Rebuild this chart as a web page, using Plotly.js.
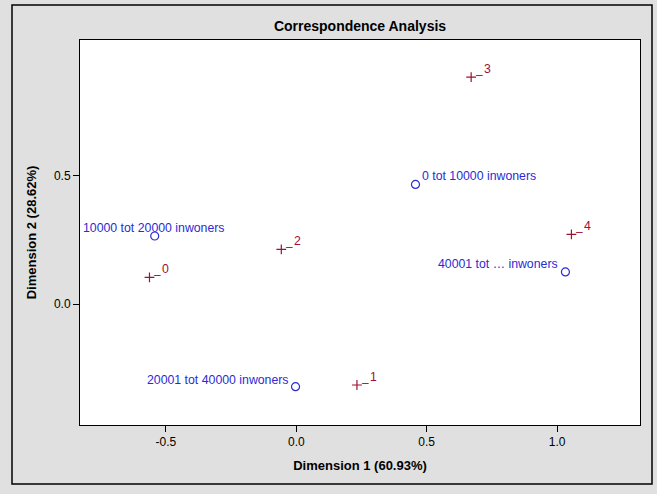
<!DOCTYPE html>
<html><head><meta charset="utf-8">
<script src="https://cdn.plot.ly/plotly-3.0.1.min.js"></script>
<style>html,body{margin:0;padding:0;background:#e0e0e0;}#chart{width:657px;height:494px;}</style>
</head><body><div id="chart"></div>
<script>
// Row points (community size classes)
const rowLabels = ["0 tot 10000 inwoners", "10000 tot 20000 inwoners", "20001 tot 40000 inwoners", "40001 tot \u2026 inwoners"];
const rowDim1 = [0.457, -0.543, -0.003, 1.032];
const rowDim2 = [0.466, 0.265, -0.322, 0.125];

// Column points
const colLabels = ["0", "1", "2", "3", "4"];
const colDim1 = [-0.563, 0.2325, -0.0575, 0.6705, 1.055];
const colDim2 = [0.104, -0.3155, 0.213, 0.884, 0.271];

const xTicks = [-0.5, 0.0, 0.5, 1.0];
const xTickText = ["-0.5", "0.0", "0.5", "1.0"];
const yTicks = [0.0, 0.5];
const yTickText = ["0.0", "0.5"];

const BLUE = "#2b2bd4";
const RED = "#a01030";
const FONT = "Liberation Sans, Arial, sans-serif";

// label placement for rows: [xanchor, xshift, yshift]
const rowPlace = [["left", 5, 8], ["center", -1, 8], ["right", -5, 7], ["right", -5, 8]];

const annotations = [];
rowLabels.forEach((t, i) => {
  annotations.push({x: rowDim1[i], y: rowDim2[i], xref: "x", yref: "y", text: t, showarrow: false,
    xanchor: rowPlace[i][0], yanchor: "middle", xshift: rowPlace[i][1], yshift: rowPlace[i][2],
    font: {family: FONT, size: 12.3, color: BLUE}});
});
colLabels.forEach((t, i) => {
  annotations.push({x: colDim1[i], y: colDim2[i], xref: "x", yref: "y", text: "\u2013", showarrow: false,
    xanchor: "left", yanchor: "middle", xshift: 3, yshift: 2,
    font: {family: FONT, size: 12, color: RED}});
  annotations.push({x: colDim1[i], y: colDim2[i], xref: "x", yref: "y", text: t, showarrow: false,
    xanchor: "left", yanchor: "middle", xshift: 11, yshift: 8,
    font: {family: FONT, size: 12.3, color: RED}});
});

const traces = [
  {x: rowDim1, y: rowDim2, mode: "markers", type: "scatter", name: "Rows",
   marker: {symbol: "circle-open", size: 8, color: BLUE, line: {width: 1.2, color: BLUE}}},
  {x: colDim1, y: colDim2, mode: "markers", type: "scatter", name: "Columns",
   marker: {symbol: "cross-thin-open", size: 7, color: RED, line: {width: 1.2, color: RED}}}
];

const layout = {
  width: 657, height: 494,
  paper_bgcolor: "#e0e0e0", plot_bgcolor: "#ffffff",
  margin: {l: 80, r: 17, t: 40, b: 69, pad: 0},
  showlegend: false,
  font: {family: FONT, size: 12, color: "#000"},
  title: {text: "<b>Correspondence Analysis</b>", font: {family: FONT, size: 14, color: "#000"},
          x: 0.5, xref: "paper", xanchor: "center", y: 1 - 26/494, yref: "container", yanchor: "middle"},
  xaxis: {range: [-0.8295, 1.318], tickvals: xTicks, ticktext: xTickText, ticks: "outside", ticklen: 6,
          tickcolor: "#000", showgrid: false, zeroline: false, showline: true, mirror: true,
          linecolor: "#000", linewidth: 1, tickfont: {family: FONT, size: 12, color: "#000"},
          title: {text: "<b>Dimension 1 (60.93%)</b>", font: {family: FONT, size: 13, color: "#000"}, standoff: 12}},
  yaxis: {range: [-0.4714, 1.0286], tickvals: yTicks, ticktext: yTickText, ticks: "outside", ticklen: 6,
          tickcolor: "#000", showgrid: false, zeroline: false, showline: true, mirror: true,
          linecolor: "#000", linewidth: 1, tickfont: {family: FONT, size: 12, color: "#000"},
          title: {text: "<b>Dimension 2 (28.62%)</b>", font: {family: FONT, size: 13, color: "#000"}, standoff: 14}},
  annotations: annotations,
  shapes: [{type: "rect", xref: "paper", yref: "paper",
            x0: (12-80)/560, x1: (652-80)/560, y0: (425-484)/385, y1: (425-5)/385,
            line: {color: "#000", width: 1.5}, fillcolor: "rgba(0,0,0,0)", layer: "below"}]
};

Plotly.newPlot("chart", traces, layout, {displayModeBar: false, staticPlot: true});
</script></body></html>
